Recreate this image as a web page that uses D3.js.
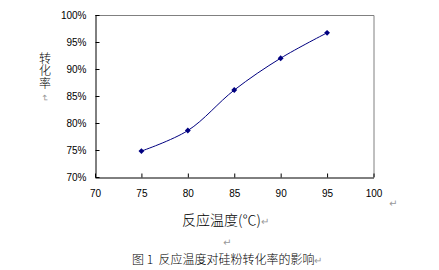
<!DOCTYPE html>
<html>
<head>
  <meta charset="utf-8">
  <title>反应温度对硅粉转化率的影响</title>
  <script src="https://d3js.org/d3.v7.min.js"></script>
  <style>
    body, html {
      margin: 0;
      padding: 0;
      background: #fff;
    }
    .axis text {
      font-family: "Liberation Sans", Arial, sans-serif;
      font-size: 10px;
      fill: #000;
    }
    .axis .domain,
    .axis .tick line {
      stroke: #000;
    }
    .cjk {
      font-family: "Noto Sans CJK SC", sans-serif;
      font-weight: 300;
      fill: #000;
      white-space: pre;
    }
    .mark {
      font-family: "DejaVu Sans", sans-serif;
      fill: #999;
    }
    .line {
      fill: none;
      stroke: #000080;
      stroke-width: 1;
    }
  </style>
</head>
<body>
  <div id="chart"></div>
  <script>
    // data
    const temperatures = [75, 80, 85, 90, 95]
    const conversion = [74.8, 78.6, 86.1, 92.0, 96.7]
    const xTicks = [70, 75, 80, 85, 90, 95, 100]
    const yTicks = [70, 75, 80, 85, 90, 95, 100]

    const W = 439, H = 270
    const plot = { left: 95, right: 373.5, top: 15, bottom: 177 }

    const svg = d3.select('#chart').append('svg')
      .attr('width', W)
      .attr('height', H)

    const xScale = d3.scaleLinear()
      .domain([70, 100])
      .range([plot.left, plot.right])

    const yScale = d3.scaleLinear()
      .domain([70, 100])
      .range([plot.bottom, plot.top])

    // gray frame on top and right
    svg.append('path')
      .attr('d', `M${plot.left},${plot.top + 0.5}H${plot.right + 0.5}V${plot.bottom}`)
      .attr('fill', 'none')
      .attr('stroke', '#808080')

    // y axis
    svg.append('g')
      .attr('class', 'axis')
      .attr('transform', `translate(${plot.left + 0.5},0)`)
      .call(d3.axisLeft(yScale)
        .tickValues(yTicks)
        .tickSizeInner(-4)
        .tickSizeOuter(0)
        .tickPadding(9)
        .tickFormat(d => d + '%'))

    // x axis
    svg.append('g')
      .attr('class', 'axis')
      .attr('transform', `translate(0,${plot.bottom + 0.5})`)
      .call(d3.axisBottom(xScale)
        .tickValues(xTicks)
        .tickSizeInner(-4)
        .tickSizeOuter(0)
        .tickPadding(12)
        .tickFormat(d3.format('d')))

    const points = temperatures.map((t, i) => ({ t: t, v: conversion[i] }))

    const line = d3.line()
      .x(d => xScale(d.t))
      .y(d => yScale(d.v))
      .curve(d3.curveCatmullRom.alpha(0.5))

    svg.append('path')
      .datum(points)
      .attr('class', 'line')
      .attr('d', line)

    // diamond markers
    svg.selectAll('.marker')
      .data(points)
      .enter()
      .append('path')
      .attr('class', 'marker')
      .attr('d', d3.symbol().type(d3.symbolDiamond2).size(22))
      .attr('transform', d => `translate(${xScale(d.t)},${yScale(d.v)})`)
      .attr('fill', '#000080')

    // y axis title, written top to bottom
    svg.append('text')
      .attr('class', 'cjk')
      .attr('x', 45)
      .attr('y', 52)
      .attr('font-size', '12px')
      .style('writing-mode', 'vertical-rl')
      .style('letter-spacing', '0.5px')
      .text('转化率')

    svg.append('text')
      .attr('class', 'mark')
      .attr('transform', 'translate(45,98) rotate(90)')
      .attr('text-anchor', 'middle')
      .attr('dominant-baseline', 'central')
      .attr('font-size', '9px')
      .text('↵')

    // x axis title
    const xTitle = svg.append('text')
      .attr('class', 'cjk')
      .attr('x', 182)
      .attr('y', 225)
      .attr('font-size', '14px')
    xTitle.append('tspan').text('反应温度(℃)')
    xTitle.append('tspan').attr('class', 'mark').attr('font-size', '10px').text('↵')

    svg.append('text')
      .attr('class', 'mark')
      .attr('x', 389)
      .attr('y', 207)
      .attr('font-size', '10px')
      .text('↵')

    svg.append('text')
      .attr('class', 'mark')
      .attr('x', 223)
      .attr('y', 246)
      .attr('font-size', '10px')
      .text('↵')

    // caption
    const caption = svg.append('text')
      .attr('class', 'cjk')
      .attr('x', 132)
      .attr('y', 264)
      .attr('font-size', '12px')
    caption.append('tspan').text('图 1  反应温度对硅粉转化率的影响')
    caption.append('tspan').attr('class', 'mark').attr('font-size', '10px').text('↵')
  </script>
</body>
</html>
